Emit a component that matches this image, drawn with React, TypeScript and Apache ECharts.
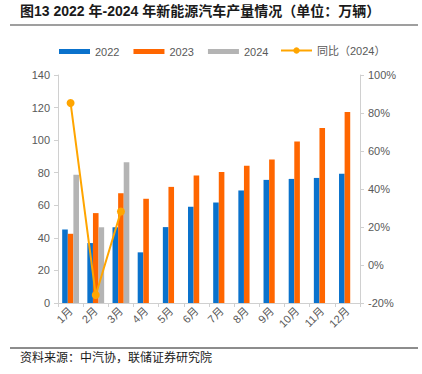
import React, { useEffect, useRef } from "react";
import * as echarts from "echarts";

const months = ["1月", "2月", "3月", "4月", "5月", "6月", "7月", "8月", "9月", "10月", "11月", "12月"];
const prod2022 = [45.1, 36.8, 46.5, 31.1, 46.6, 59.1, 61.7, 69.1, 75.6, 76.2, 76.8, 79.3];
const prod2023 = [42.5, 55.2, 67.4, 64.0, 71.3, 78.3, 80.5, 84.2, 88.1, 99.1, 107.5, 117.3];
const prod2024 = [78.7, 46.5, 86.4];
const yoy2024 = [85.3, -15.8, 28.2];
const leftTicks = { min: 0, max: 140, interval: 20 };
const rightTicks = { min: -20, max: 100, interval: 20 };

const FONT = 'Arial, "Liberation Sans", "Noto Sans CJK SC", sans-serif';
const LABEL = "#595959";
const AXIS = "#D0D0D0";

export default function App() {
  const ref = useRef<HTMLDivElement>(null);
  useEffect(() => {
    const chart = echarts.init(ref.current!, undefined, { renderer: "svg" });
    chart.setOption({
      animation: false,
      textStyle: { fontFamily: FONT },
      graphic: [
        {
          type: "text",
          left: 20,
          top: 4,
          style: {
            text: "图13 2022 年-2024 年新能源汽车产量情况（单位：万辆）",
            font: `bold 14px ${FONT}`,
            fill: "#1a1a1a",
          },
        },
        {
          type: "line",
          shape: { x1: 10, y1: 25, x2: 418, y2: 25 },
          style: { stroke: "#7f7f7f", lineWidth: 1.5 },
        },
        {
          type: "line",
          shape: { x1: 10, y1: 348, x2: 418, y2: 348 },
          style: { stroke: "#1a1a1a", lineWidth: 1 },
        },
        {
          type: "text",
          left: 20,
          top: 352,
          style: {
            text: "资料来源：中汽协，联储证券研究院",
            font: `12px ${FONT}`,
            fill: "#1a1a1a",
          },
        },
      ],
      legend: [
        {
          left: 54,
          top: 41,
          itemWidth: 31,
          itemHeight: 5,
          itemGap: 14,
          textStyle: { color: LABEL, fontSize: 11, fontFamily: FONT },
          data: [
            { name: "2022", icon: "rect" },
            { name: "2023", icon: "rect" },
            { name: "2024", icon: "rect" },
          ],
        },
        {
          left: 275,
          top: 40,
          itemWidth: 31,
          itemHeight: 8,
          textStyle: { color: LABEL, fontSize: 11, fontFamily: FONT },
          data: [{ name: "同比（2024）" }],
        },
      ],
      grid: { left: 58, right: 62, top: 75, bottom: 71, containLabel: false },
      xAxis: {
        type: "category",
        data: months,
        axisLine: { lineStyle: { color: AXIS } },
        axisTick: { show: true, alignWithLabel: false, lineStyle: { color: AXIS }, length: 4 },
        axisLabel: { color: LABEL, fontSize: 11, rotate: 45, margin: 6, interval: 0 },
      },
      yAxis: [
        {
          type: "value",
          ...leftTicks,
          splitLine: { show: false },
          axisLine: { show: true, lineStyle: { color: AXIS } },
          axisTick: { show: true, lineStyle: { color: AXIS }, length: 4 },
          axisLabel: { color: LABEL, fontSize: 11, margin: 8 },
        },
        {
          type: "value",
          ...rightTicks,
          position: "right",
          splitLine: { show: false },
          axisLine: { show: true, lineStyle: { color: AXIS } },
          axisTick: { show: true, lineStyle: { color: AXIS }, length: 4 },
          axisLabel: { color: LABEL, fontSize: 11, margin: 8, formatter: "{value}%" },
        },
      ],
      series: [
        {
          name: "2022",
          type: "bar",
          data: prod2022,
          barWidth: 5.6,
          barGap: "0%",
          itemStyle: { color: "#0A72CC" },
        },
        {
          name: "2023",
          type: "bar",
          data: prod2023,
          barWidth: 5.6,
          barGap: "0%",
          itemStyle: { color: "#FF6600" },
        },
        {
          name: "2024",
          type: "bar",
          data: prod2024,
          barWidth: 5.6,
          barGap: "0%",
          itemStyle: { color: "#B4B4B4" },
        },
        {
          name: "同比（2024）",
          type: "line",
          yAxisIndex: 1,
          data: yoy2024,
          symbol: "circle",
          symbolSize: 8,
          lineStyle: { color: "#FFA500", width: 2 },
          itemStyle: { color: "#FFA500" },
          z: 5,
        },
      ],
    });
    return () => chart.dispose();
  }, []);
  return (
    <div
      ref={ref}
      style={{ position: "fixed", left: 0, top: 0, width: 422, height: 374, background: "#fff" }}
    />
  );
}
